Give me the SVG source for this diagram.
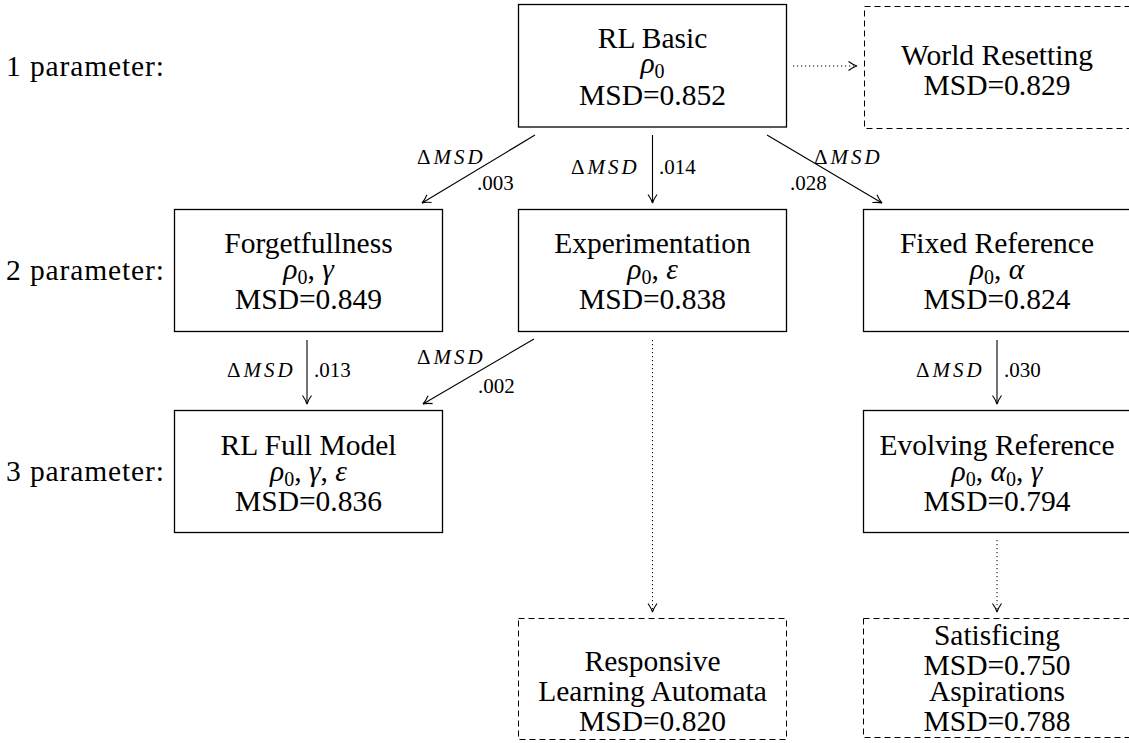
<svg xmlns="http://www.w3.org/2000/svg" width="1129" height="743" viewBox="0 0 1129 743">
  <style>
    .box { fill: none; stroke: #000; stroke-width: 1.3; }
    .dbox { fill: none; stroke: #000; stroke-width: 1; stroke-dasharray: 6 4; }
    .edge { fill: none; stroke: #000; stroke-width: 1.1; }
    .dot { fill: none; stroke: #000; stroke-width: 1; stroke-dasharray: 1.2 2.8; }
    text { font-family: "Liberation Serif", "DejaVu Serif", serif; fill: #000; }
    .t { font-size: 29.5px; text-anchor: middle; }
    .row { font-size: 29.5px; }
    .i { font-style: italic; }
    .sub { font-size: 20px; font-style: normal; }
    .lbl { font-size: 21px; }
    .dm { letter-spacing: 3px; }
  </style>
  <defs>
    <marker id="arr" markerUnits="userSpaceOnUse" markerWidth="12" markerHeight="12" viewBox="-10 -6 12 12" refX="0" refY="0" orient="auto">
      <path d="M-8.5,-4.5 C-5,-2 -2,-0.5 0,0 C-2,0.5 -5,2 -8.5,4.5" fill="none" stroke="#000" stroke-width="1.1" stroke-dasharray="none"/>
    </marker>
  </defs>

  <!-- row labels -->
  <g id="row-labels">
    <text class="row" x="6" y="76" textLength="158" lengthAdjust="spacing">1 parameter:</text>
    <text class="row" x="6" y="280" textLength="158" lengthAdjust="spacing">2 parameter:</text>
    <text class="row" x="6" y="481" textLength="158" lengthAdjust="spacing">3 parameter:</text>
  </g>

  <!-- connectors -->
  <g id="connectors">
    <path class="edge" d="M535,135 L422,203" marker-end="url(#arr)"/>
    <path class="edge" d="M652.5,135 L652.5,203" marker-end="url(#arr)"/>
    <path class="edge" d="M767,135 L882,203" marker-end="url(#arr)"/>
    <path class="dot" d="M793,66 L857,66" marker-end="url(#arr)"/>
    <path class="edge" d="M307,340 L307,404" marker-end="url(#arr)"/>
    <path class="edge" d="M534,339 L423,404" marker-end="url(#arr)"/>
    <path class="edge" d="M997,340 L997,404" marker-end="url(#arr)"/>
    <path class="dot" d="M652.5,340 L652.5,612" marker-end="url(#arr)"/>
    <path class="dot" d="M997,540 L997,612" marker-end="url(#arr)"/>

    <g class="lbl">
      <text class="dm" x="417" y="164">Δ<tspan class="i">MSD</tspan></text>
      <text x="477" y="190">.003</text>
      <text class="dm" x="571" y="174">Δ<tspan class="i">MSD</tspan></text>
      <text x="659" y="174">.014</text>
      <text class="dm" x="814" y="164">Δ<tspan class="i">MSD</tspan></text>
      <text x="790" y="190">.028</text>
      <text class="dm" x="227" y="377">Δ<tspan class="i">MSD</tspan></text>
      <text x="314" y="377">.013</text>
      <text class="dm" x="417" y="364">Δ<tspan class="i">MSD</tspan></text>
      <text x="478" y="393">.002</text>
      <text class="dm" x="916" y="377">Δ<tspan class="i">MSD</tspan></text>
      <text x="1004" y="377">.030</text>
    </g>
  </g>

  <!-- level 1 -->
  <g id="rl-basic">
    <rect class="box" x="518.5" y="4.5" width="268" height="122.5"/>
    <text class="t" x="652.5" y="48">RL Basic</text>
    <text class="t" x="652.5" y="73"><tspan class="i">ρ</tspan><tspan class="sub" dy="5">0</tspan></text>
    <text class="t" x="652.5" y="105">MSD=0.852</text>
  </g>

  <g id="world-resetting">
    <rect class="dbox" x="864.5" y="6.5" width="268" height="122"/>
    <text class="t" x="997" y="65">World Resetting</text>
    <text class="t" x="997" y="95">MSD=0.829</text>
  </g>

  <!-- level 2 -->
  <g id="forgetfullness">
    <rect class="box" x="174.5" y="209.5" width="268" height="122"/>
    <text class="t" x="308.5" y="253">Forgetfullness</text>
    <text class="t" x="308.5" y="279"><tspan class="i">ρ</tspan><tspan class="sub" dy="5">0</tspan><tspan dy="-5">, </tspan><tspan class="i">γ</tspan></text>
    <text class="t" x="308.5" y="309">MSD=0.849</text>
  </g>

  <g id="experimentation">
    <rect class="box" x="518.5" y="209.5" width="268" height="122"/>
    <text class="t" x="652.5" y="253">Experimentation</text>
    <text class="t" x="652.5" y="279"><tspan class="i">ρ</tspan><tspan class="sub" dy="5">0</tspan><tspan dy="-5">, </tspan><tspan class="i">ε</tspan></text>
    <text class="t" x="652.5" y="309">MSD=0.838</text>
  </g>

  <g id="fixed-reference">
    <rect class="box" x="863.5" y="209.5" width="269" height="122"/>
    <text class="t" x="997" y="253">Fixed Reference</text>
    <text class="t" x="997" y="279"><tspan class="i">ρ</tspan><tspan class="sub" dy="5">0</tspan><tspan dy="-5">, </tspan><tspan class="i">α</tspan></text>
    <text class="t" x="997" y="309">MSD=0.824</text>
  </g>

  <!-- level 3 -->
  <g id="rl-full-model">
    <rect class="box" x="174.5" y="410.5" width="268" height="122"/>
    <text class="t" x="308.5" y="455">RL Full Model</text>
    <text class="t" x="308.5" y="481"><tspan class="i">ρ</tspan><tspan class="sub" dy="5">0</tspan><tspan dy="-5">, </tspan><tspan class="i">γ</tspan>, <tspan class="i">ε</tspan></text>
    <text class="t" x="308.5" y="511">MSD=0.836</text>
  </g>

  <g id="evolving-reference">
    <rect class="box" x="863.5" y="410.5" width="269" height="122"/>
    <text class="t" x="997" y="455">Evolving Reference</text>
    <text class="t" x="997" y="481"><tspan class="i">ρ</tspan><tspan class="sub" dy="5">0</tspan><tspan dy="-5">, </tspan><tspan class="i">α</tspan><tspan class="sub" dy="5">0</tspan><tspan dy="-5">, </tspan><tspan class="i">γ</tspan></text>
    <text class="t" x="997" y="511">MSD=0.794</text>
  </g>

  <!-- related models -->
  <g id="responsive-learning-automata">
    <rect class="dbox" x="518.5" y="618.5" width="268" height="121"/>
    <text class="t" x="652.5" y="671">Responsive</text>
    <text class="t" x="652.5" y="701">Learning Automata</text>
    <text class="t" x="652.5" y="731">MSD=0.820</text>
  </g>

  <g id="satisficing">
    <rect class="dbox" x="863.5" y="618.5" width="269" height="119"/>
    <text class="t" x="997" y="645">Satisficing</text>
    <text class="t" x="997" y="675">MSD=0.750</text>
    <text class="t" x="997" y="701">Aspirations</text>
    <text class="t" x="997" y="731">MSD=0.788</text>
  </g>
</svg>
